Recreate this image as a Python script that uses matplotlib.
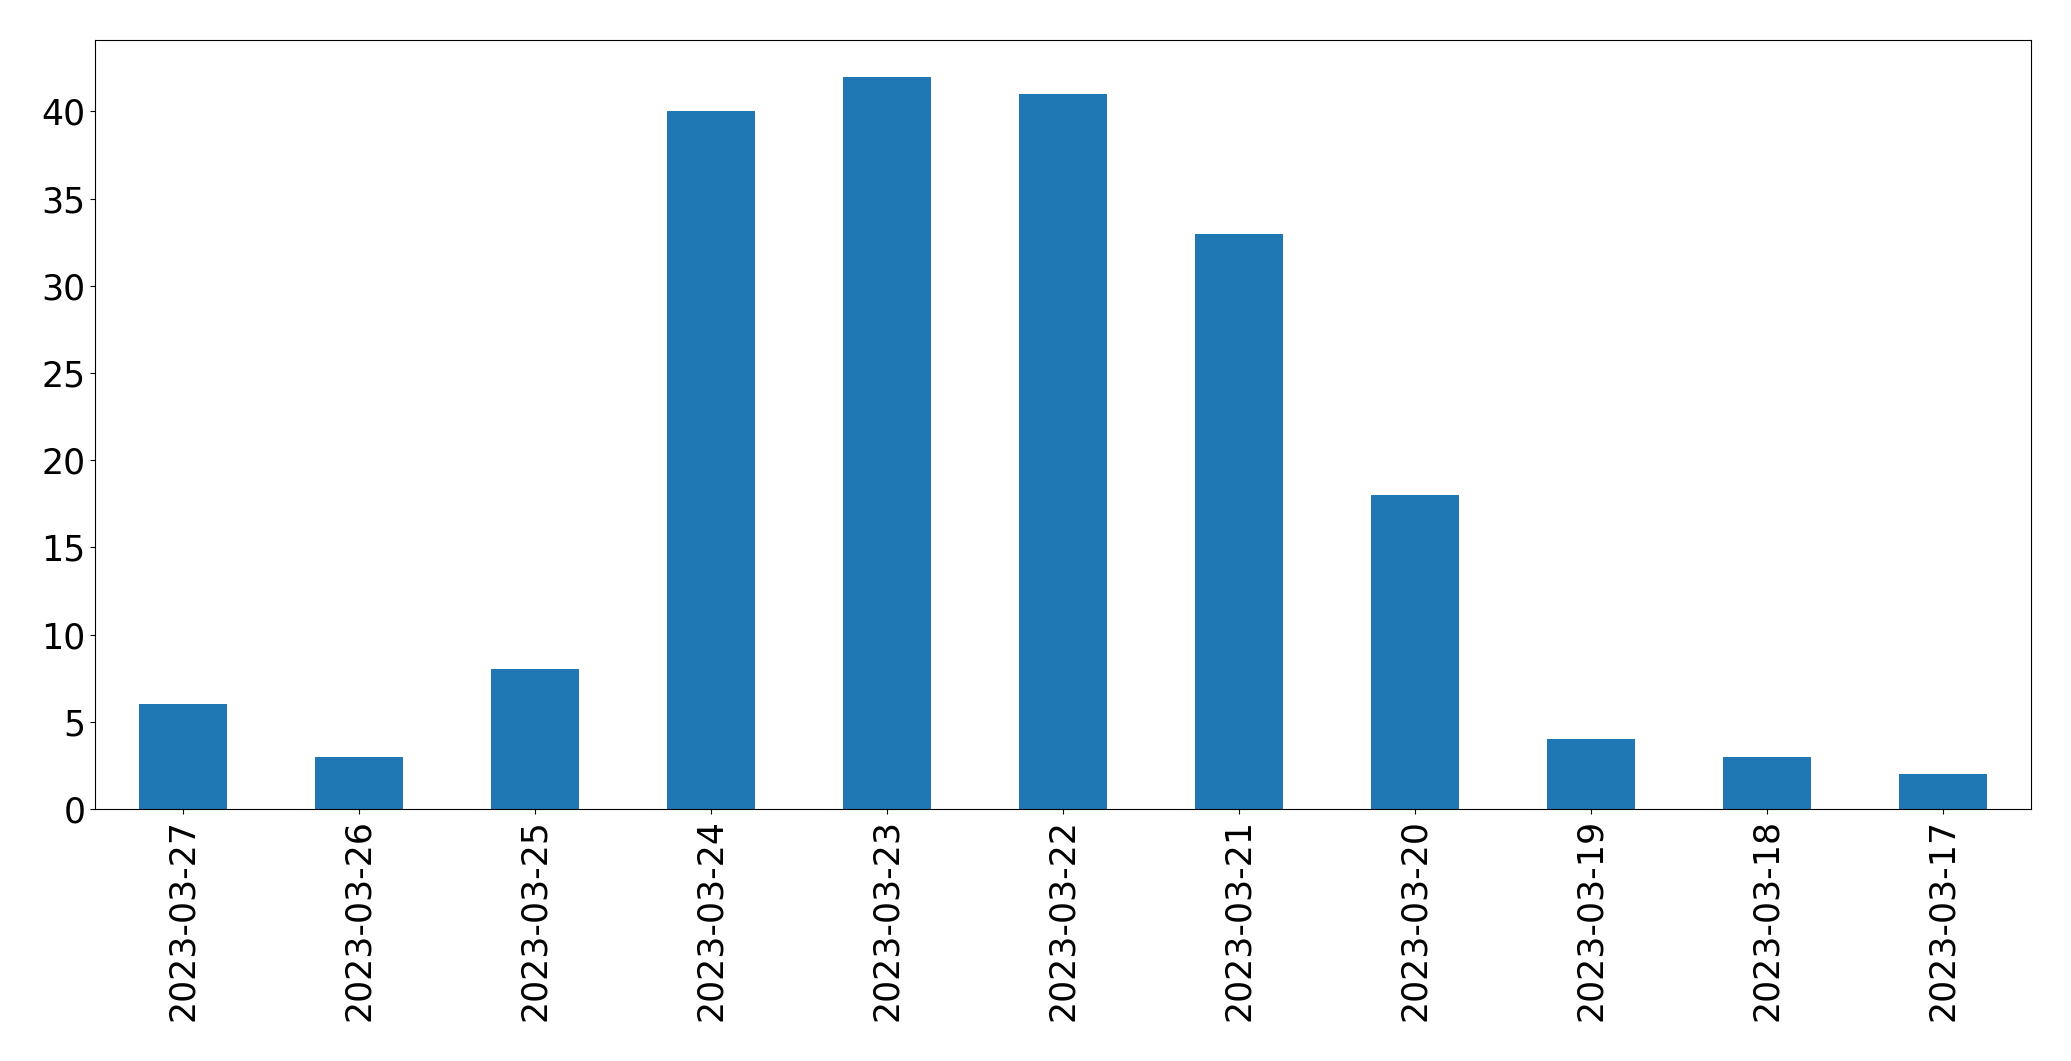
import matplotlib
matplotlib.use("Agg")
import matplotlib.pyplot as plt

dates = ["2023-03-27", "2023-03-26", "2023-03-25", "2023-03-24", "2023-03-23",
         "2023-03-22", "2023-03-21", "2023-03-20", "2023-03-19", "2023-03-18",
         "2023-03-17"]
counts = [6, 3, 8, 40, 42, 41, 33, 18, 4, 3, 2]

fig = plt.figure(figsize=(20.71, 10.61), dpi=100)
ax = fig.add_axes([95 / 2071, 1 - 809 / 1061, (2031 - 95) / 2071, (809 - 40) / 1061])
x = list(range(len(dates)))
ax.bar(x, counts, width=0.5, color="#1f77b4")
ax.set_xlim(-0.5, len(dates) - 0.5)
ax.set_ylim(0, max(counts) * 1.05)
ax.set_xticks(x)
ax.set_xticklabels(dates, rotation=90)
ax.tick_params(axis="both", labelsize=25)
fig.savefig("out.png", dpi=100)
